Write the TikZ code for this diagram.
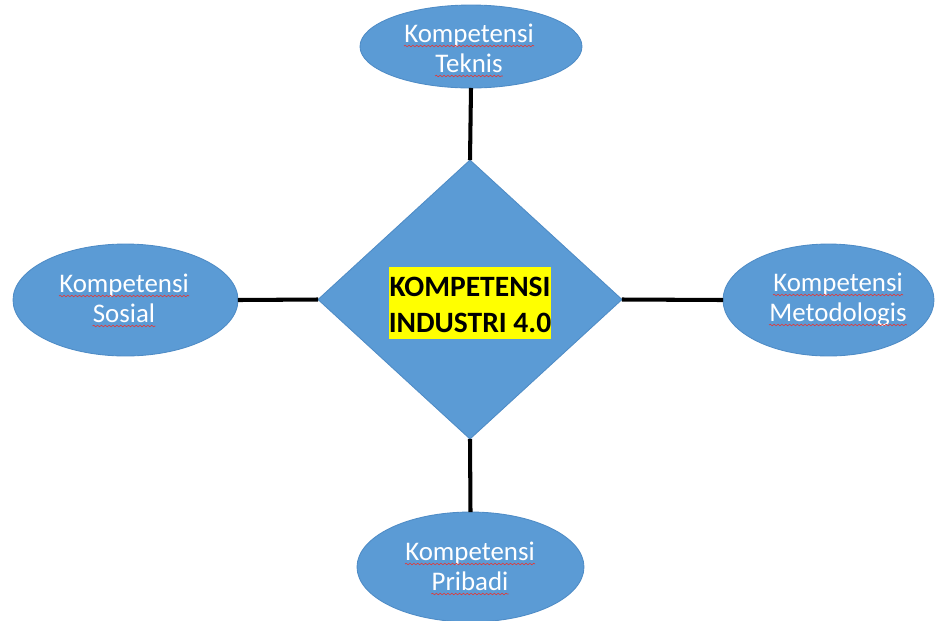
\documentclass[tikz,border=0pt]{standalone}
\usepackage{fontspec}
\setmainfont{Carlito}
\usetikzlibrary{shapes.geometric,decorations.pathmorphing}
\definecolor{shapeblue}{HTML}{5B9BD5}
\definecolor{shapeedge}{HTML}{4F8CC6}
\definecolor{hilite}{HTML}{FFFF00}
\definecolor{spell}{HTML}{E03A3A}
\begin{document}
\begin{tikzpicture}[x=0.02cm,y=-0.02cm,
  bubble/.style={ellipse, fill=shapeblue, draw=shapeedge, line width=0.5pt,
                 inner sep=0pt, outer sep=0pt},
  core/.style={diamond, fill=shapeblue, draw=shapeedge, line width=0.5pt,
               inner sep=0pt, outer sep=0pt},
  bubbletext/.style={text=white, font=\fontsize{15.3}{18}\selectfont,
                     anchor=base, inner sep=0pt},
  titletext/.style={fill=hilite, text=black, font=\fontsize{16.8}{20}\selectfont\bfseries,
                    anchor=base, inner xsep=0pt, inner ysep=0pt,
                    text height=0.58cm, text depth=0.14cm, minimum width=3.24cm},
  squiggle/.style={draw=spell, line width=0.35pt, decorate,
                   decoration={snake, amplitude=0.45pt, segment length=2.2pt}},
  link/.style={draw=black, line width=2.3pt}]

\useasboundingbox (0,0) rectangle (937,620);

% outer competence bubbles and the central diamond
\node[bubble, minimum width=4.44cm, minimum height=1.66cm] (teknis) at (471,46.5) {};
\node[bubble, minimum width=4.50cm, minimum height=2.24cm] (sosial) at (125.5,300) {};
\node[bubble, minimum width=4.22cm, minimum height=2.24cm] (metod) at (828.5,300) {};
\node[bubble, minimum width=4.54cm, minimum height=2.20cm] (pribadi) at (470.5,567) {};
\node[core, minimum width=6.08cm, minimum height=5.58cm] (pusat) at (470,299.5) {};

% connectors
\draw[link] (teknis.south) -- (pusat.north);
\draw[link] (sosial.east) -- (pusat.west);
\draw[link] (pusat.east) -- (metod.west);
\draw[link] (pusat.south) -- (pribadi.north);

% bubble captions
\node[bubbletext] (ta) at (469,42) {Kompetensi};
\node[bubbletext] (tb) at (469,72) {Teknis};
\node[bubbletext] (sa) at (124,292) {Kompetensi};
\node[bubbletext] (sb) at (124,322) {Sosial};
\node[bubbletext] (ma) at (838,291) {Kompetensi};
\node[bubbletext] (mb) at (838,321) {Metodologis};
\node[bubbletext] (pa) at (470,560) {Kompetensi};
\node[bubbletext] (pb) at (470,590) {Pribadi};

% spell-check underlines
\foreach \n in {ta,tb,sa,sb,ma,mb,pa,pb}
  \draw[squiggle] ([yshift=-0.08cm]\n.base west) -- ([yshift=-0.08cm]\n.base east);

% highlighted title
\node[titletext] (judul1) at (470,296) {KOMPETENSI};
\node[titletext] (judul2) at (470,332) {INDUSTRI 4.0};
\end{tikzpicture}
\end{document}
